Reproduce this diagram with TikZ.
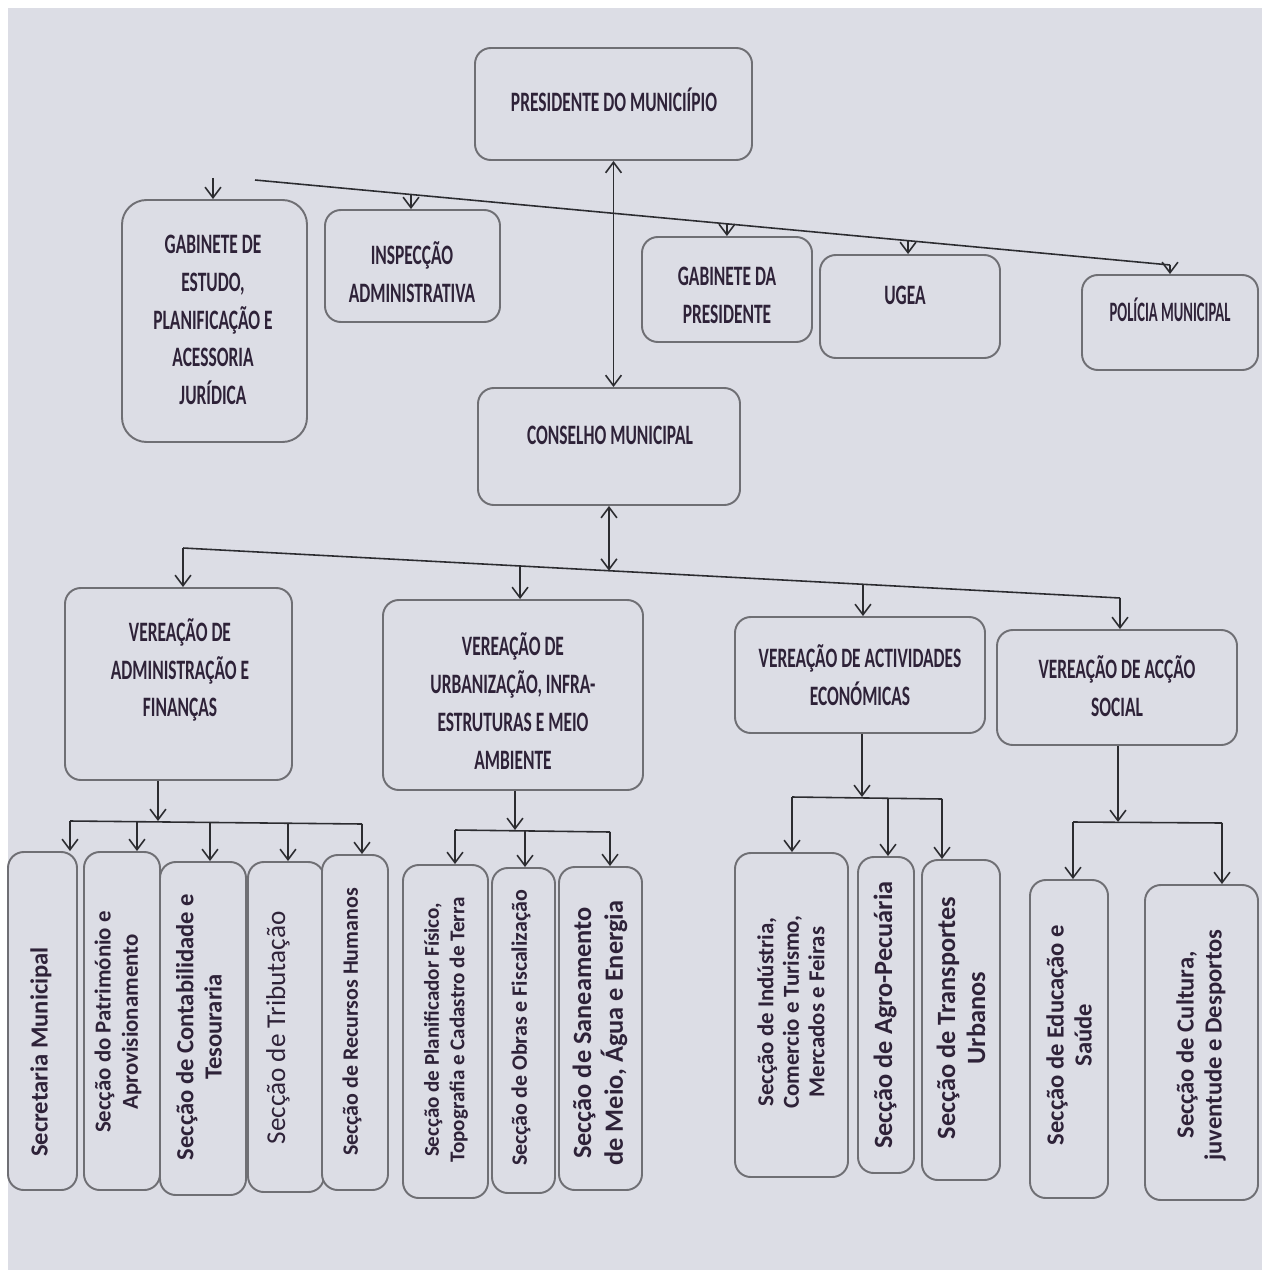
\documentclass[tikz,border=0pt]{standalone}
\usepackage{fontspec}
\setmainfont{Carlito}
\newfontfamily\hfont[FakeStretch=0.62]{Carlito}
\newfontfamily\pfont[FakeStretch=0.52]{Carlito}
\usetikzlibrary{arrows.meta,fit,calc}
\definecolor{paper}{HTML}{DCDDE5}
\definecolor{edge}{HTML}{6F6F74}
\definecolor{ink}{HTML}{2E2238}
\definecolor{wire}{HTML}{2C2C30}
\tikzset{
  box/.style={draw=edge, line width=1.1pt, rounded corners=9pt, fill=paper, inner sep=0pt},
  bigbox/.style={box, rounded corners=14pt},
  arr/.style={draw=wire, line width=0.9pt, -{Straight Barb[length=6pt,width=9pt]}},
  arrtwo/.style={draw=wire, line width=0.9pt, {Straight Barb[length=6pt,width=9pt]}-{Straight Barb[length=6pt,width=9pt]}},
  wireline/.style={draw=wire, line width=0.9pt},
  htxt/.style={text=ink, align=center, inner sep=0pt, font=\hfont\bfseries\fontsize{16}{21.5}\selectfont},
  vtxt/.style={text=ink, align=center, inner sep=0pt, rotate=90, font=\bfseries\fontsize{14}{16}\selectfont},
}
\begin{document}
\begin{tikzpicture}[x=0.02cm,y=-0.02cm]
\useasboundingbox (0,0) rectangle (1267,1277);
\fill[white] (0,0) rectangle (1267,1277);
\fill[paper] (8,8) rectangle (1262,1270);

% ---------- top level ----------
\node[box, fit={(475,48) (752,160)}] (pres) {};
\node[htxt] (tpres) at (614,100) {PRESIDENTE DO MUNICIÍPIO};

\node[bigbox, fit={(122,200) (307,442)}] (gab) {};
\node[htxt] (tgab) at (213,320) {GABINETE DE\\ESTUDO,\\PLANIFICAÇÃO E\\ACESSORIA\\JURÍDICA};

\node[box, fit={(325,210) (500,322)}] (ins) {};
\node[htxt] (tins) at (412,272) {INSPECÇÃO\\ADMINISTRATIVA};

\node[box, fit={(642,237) (812,342)}] (gdp) {};
\node[htxt] (tgdp) at (727,295) {GABINETE DA\\PRESIDENTE};

\node[box, fit={(820,255) (1000,358)}] (ugea) {};
\node[htxt] (tugea) at (905,295) {UGEA};

\node[box, fit={(1082,275) (1258,370)}] (pol) {};
\node[htxt, font=\pfont\bfseries\fontsize{16}{21.5}\selectfont] (tpol) at (1170,310) {POLÍCIA MUNICIPAL};

\node[box, fit={(478,388) (740,505)}] (cons) {};
\node[htxt] (tcons) at (610,435) {CONSELHO MUNICIPAL};

% line under president
\coordinate (h1s) at (255,180);
\coordinate (h1e) at (1170,265);
\coordinate (g1) at (213,178);
\coordinate (pins) at ($(h1s)!0.1705!(h1e)$);
\coordinate (pgdp) at ($(h1s)!0.5158!(h1e)$);
\coordinate (pugea) at ($(h1s)!0.7137!(h1e)$);
\draw[wireline] (h1s) -- (h1e);
\draw[arr] (g1) -- (g1 |- gab.north);
\draw[arr] (pins) -- (pins |- ins.north);
\draw[arr] (pgdp) -- (pgdp |- gdp.north);
\draw[arr] (pugea) -- (pugea |- ugea.north);
\draw[arr] (h1e) -- (h1e |- pol.north);
\draw[arrtwo] (pres.south) -- (pres.south |- cons.north);

% ---------- vereações ----------
\node[box, fit={(65,588) (292,780)}] (vad) {};
\node[htxt] (tvad) at (180,670) {VEREAÇÃO DE\\ADMINISTRAÇÃO E\\FINANÇAS};

\node[box, fit={(383,600) (643,790)}] (vur) {};
\node[htxt] (tvur) at (513,701) {VEREAÇÃO DE\\URBANIZAÇÃO, INFRA-\\ESTRUTURAS E MEIO\\AMBIENTE};

\node[box, fit={(735,617) (985,733)}] (vac) {};
\node[htxt] (tvac) at (860,675) {VEREAÇÃO DE ACTIVIDADES\\ECONÓMICAS};

\node[box, fit={(997,630) (1237,745)}] (vas) {};
\node[htxt] (tvas) at (1117,686) {VEREAÇÃO DE ACÇÃO\\SOCIAL};

\coordinate (h2s) at (183,548);
\coordinate (h2e) at (1120,598);
\coordinate (pvur) at ($(h2s)!0.3597!(h2e)$);
\coordinate (pcons) at ($(h2s)!0.4536!(h2e)$);
\coordinate (pvac) at ($(h2s)!0.7257!(h2e)$);
\draw[wireline] (h2s) -- (h2e);
\draw[arr] (h2s) -- (h2s |- vad.north);
\draw[arr] (pvur) -- (pvur |- vur.north);
\draw[arr] (pvac) -- (pvac |- vac.north);
\draw[arr] (h2e) -- (h2e |- vas.north);
\draw[arrtwo] (cons.south) -- (cons.south |- pcons);

% ---------- Administração e Finanças ----------
\node[box, fit={(8,852) (77,1190)}] (s1) {};
\node[box, fit={(84,852) (160,1190)}] (s2) {};
\node[box, fit={(160,862) (246,1195)}] (s3) {};
\node[box, fit={(248,862) (324,1192)}] (s4) {};
\node[box, fit={(322,855) (388,1190)}] (s5) {};
\node[vtxt] (ts1) at (41,1052) {Secretaria Municipal};
\node[vtxt, font=\bfseries\fontsize{13}{15.5}\selectfont] (ts2) at (118,1022) {Secção do Património e\\Aprovisionamento};
\node[vtxt] (ts3) at (199,1027) {Secção de Contabilidade e\\Tesouraria};
\node[vtxt, font=\fontsize{15.5}{18}\selectfont] (ts4) at (278,1028) {Secção de Tributação};
\node[vtxt, font=\bfseries\fontsize{12.5}{15}\selectfont] (ts5) at (352,1022) {Secção de Recursos Humanos};

\coordinate (a0) at (158,821);
\coordinate (a1) at (70,821);
\coordinate (a5) at (362,824);
\coordinate (a2) at (137,821);
\coordinate (a3) at (210,822);
\coordinate (a4) at (288,823);
\draw[arr] (vad.south -| a0) -- (a0);
\draw[wireline] (a1) -- (a5);
\draw[arr] (a1) -- (a1 |- s1.north);
\draw[arr] (a2) -- (a2 |- s2.north);
\draw[arr] (a3) -- (a3 |- s3.north);
\draw[arr] (a4) -- (a4 |- s4.north);
\draw[arr] (a5) -- (a5 |- s5.north);

% ---------- Urbanização ----------
\node[box, fit={(403,865) (488,1198)}] (u1) {};
\node[box, fit={(492,868) (555,1193)}] (u2) {};
\node[box, fit={(559,867) (642,1190)}] (u3) {};
\node[vtxt, font=\bfseries\fontsize{12}{14.5}\selectfont] (tu1) at (446,1030) {Secção de Planificador Físico,\\Topografia e Cadastro de Terra};
\node[vtxt, font=\bfseries\fontsize{12.5}{15}\selectfont] (tu2) at (521,1028) {Secção de Obras e Fiscalização};
\node[vtxt, font=\bfseries\fontsize{15}{18}\selectfont] (tu3) at (600,1033) {Secção de Saneamento\\de Meio, Água e Energia};

\coordinate (b0) at (515,830);
\coordinate (b1) at (455,830);
\coordinate (b2) at (525,831);
\coordinate (b3) at (610,832);
\draw[arr] (vur.south -| b0) -- (b0);
\draw[wireline] (b1) -- (b3);
\draw[arr] (b1) -- (b1 |- u1.north);
\draw[arr] (b2) -- (b2 |- u2.north);
\draw[arr] (b3) -- (b3 |- u3.north);

% ---------- Actividades Económicas ----------
\node[box, fit={(735,853) (848,1177)}] (i1) {};
\node[box, fit={(858,857) (914,1173)}] (i2) {};
\node[box, fit={(922,860) (1000,1180)}] (i3) {};
\node[vtxt, font=\bfseries\fontsize{13}{14.5}\selectfont] (ti1) at (791,1012) {Secção de Indústria,\\Comercio e Turismo,\\Mercados e Feiras};
\node[vtxt, font=\bfseries\fontsize{15}{18}\selectfont] (ti2) at (885,1015) {Secção de Agro-Pecuária};
\node[vtxt, font=\bfseries\fontsize{15}{17}\selectfont] (ti3) at (961,1018) {Secção de Transportes\\Urbanos};

\coordinate (c0) at (862,797);
\coordinate (c1) at (792,797);
\coordinate (c2) at (888,798);
\coordinate (c3) at (942,799);
\draw[arr] (vac.south -| c0) -- (c0);
\draw[wireline] (c1) -- (c3);
\draw[arr] (c1) -- (c1 |- i1.north);
\draw[arr] (c2) -- (c2 |- i2.north);
\draw[arr] (c3) -- (c3 |- i3.north);

% ---------- Acção Social ----------
\node[box, fit={(1030,880) (1108,1198)}] (e1) {};
\node[box, fit={(1145,885) (1258,1200)}] (e2) {};
\node[vtxt] (te1) at (1069,1035) {Secção de Educação e\\Saúde};
\node[vtxt] (te2) at (1201,1045) {Secção de Cultura,\\juventude e Desportos};

\coordinate (d0) at (1118,822);
\coordinate (d1) at (1073,822);
\coordinate (d2) at (1222,823);
\draw[arr] (vas.south -| d0) -- (d0);
\draw[wireline] (d1) -- (d2);
\draw[arr] (d1) -- (d1 |- e1.north);
\draw[arr] (d2) -- (d2 |- e2.north);
\end{tikzpicture}
\end{document}
